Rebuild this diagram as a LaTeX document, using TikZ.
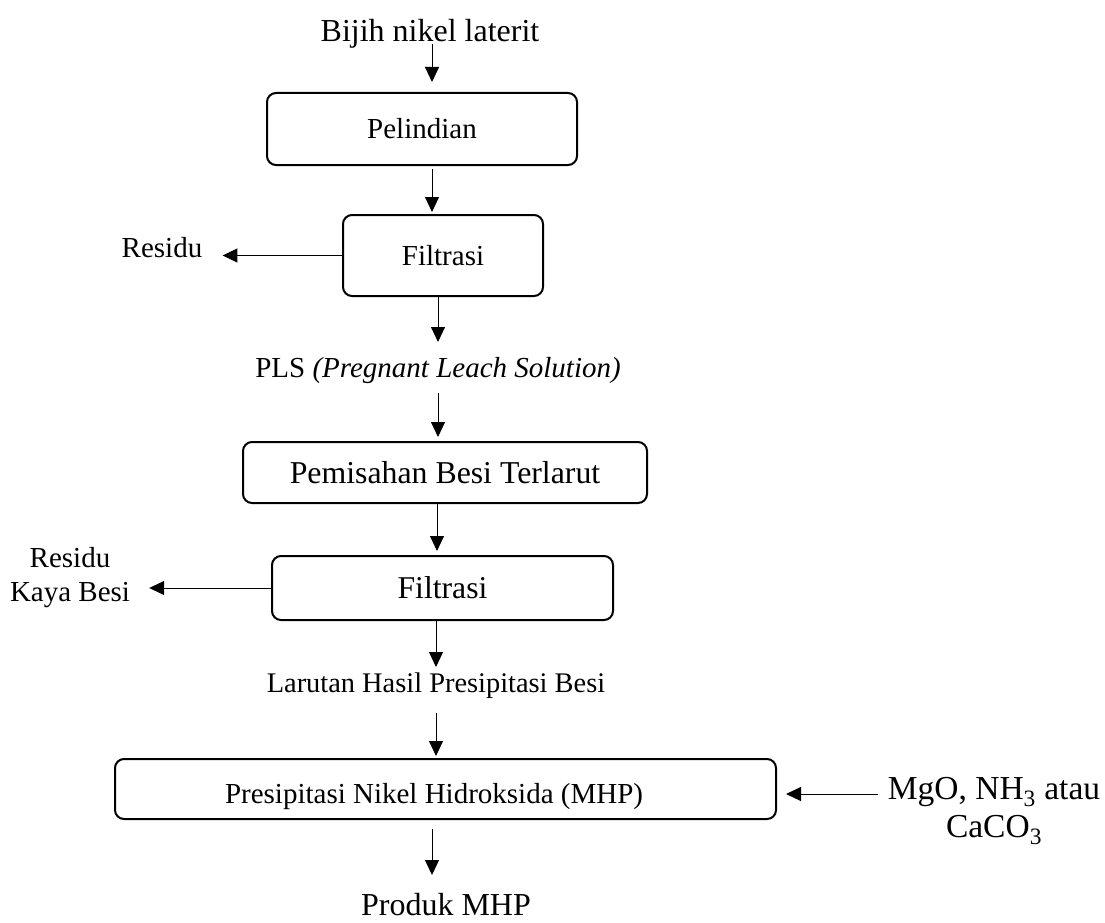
\documentclass[tikz,border=0pt]{standalone}
\usepackage{fontspec}
\setmainfont{Liberation Serif}
\usepackage{tikz}
\usetikzlibrary{arrows.meta, calc}

\tikzset{
    flowbox/.style={draw, line width=2pt, rounded corners=9pt, inner sep=0pt, align=center},
    flowtext/.style={inner sep=0pt, align=center},
    flowarrow/.style={line width=1pt, -{Triangle[length=15pt, width=14pt]}}
}

\begin{document}
\begin{tikzpicture}[x=1pt, y=-1pt]
    \useasboundingbox (0, 0) rectangle (1105, 923);

    % Input and output texts
    \node[flowtext, anchor=base, font=\fontsize{32}{38}\selectfont] (bijih) at (430, 42) {Bijih nikel laterit};
    \node[flowtext, anchor=base, font=\fontsize{29}{34}\selectfont] (pls) at (438, 377) {PLS \textit{(Pregnant Leach Solution)}};
    \node[flowtext, anchor=base, font=\fontsize{28.4}{33}\selectfont] (larutan) at (436, 692) {Larutan Hasil Presipitasi Besi};
    \node[flowtext, anchor=base, font=\fontsize{32}{38}\selectfont] (produk) at (446, 915) {Produk MHP};

    % Process boxes
    \node[flowbox, minimum width=310, minimum height=72, font=\fontsize{29}{34}\selectfont] (pelindian) at (422, 129) {Pelindian};
    \node[flowbox, minimum width=200, minimum height=81, font=\fontsize{29}{34}\selectfont] (filtrasiA) at (443, 255.5) {Filtrasi};
    \node[flowbox, minimum width=404, minimum height=61, font=\fontsize{31.8}{37}\selectfont] (pemisahan) at (445, 472.5) {Pemisahan Besi Terlarut};
    \node[flowbox, minimum width=341, minimum height=64, font=\fontsize{31.7}{37}\selectfont] (filtrasiB) at (442.5, 588) {Filtrasi};
    \node[flowbox, align=flush left, text width=441, inner xsep=110, minimum height=60, text height=28, text depth=0,
        font=\fontsize{29}{34}\selectfont] (mhp) at (445.5, 789) {Presipitasi Nikel Hidroksida (MHP)};

    % Side streams
    \node[flowtext, anchor=base, font=\fontsize{29}{34}\selectfont] (residuA) at (162, 257) {Residu};
    \node[flowtext, font=\fontsize{29}{34}\selectfont] (residuB) at (70, 578) {Residu\\Kaya Besi};
    \node[flowtext, font=\fontsize{33.5}{38}\selectfont] (reagen) at (994, 811) {MgO, NH\textsubscript{3} atau\\CaCO\textsubscript{3}};

    % Main line
    \draw[flowarrow] ($(bijih.base) + (2, 2)$) -- ($(pelindian.north) + (10, -10)$);
    \draw[flowarrow] ($(pelindian.south) + (10, 3)$) -- ($(filtrasiA.north) + (-11, -2)$);
    \draw[flowarrow] ($(filtrasiA.south) + (-5, 0)$) -- ($(pls.base) + (0, -35)$);
    \draw[flowarrow] ($(pls.base) + (0, 16)$) -- ($(pemisahan.north) + (-7, -4)$);
    \draw[flowarrow] ($(pemisahan.south) + (-8, 0)$) -- ($(filtrasiB.north) + (-5.5, -4)$);
    \draw[flowarrow] ($(filtrasiB.south) + (-6.5, 0)$) -- ($(larutan.base) + (0, -25)$);
    \draw[flowarrow] ($(larutan.base) + (0, 21)$) -- ($(mhp.north) + (-9.5, -2)$);
    \draw[flowarrow] ($(mhp.south) + (-13.5, 9)$) -- ($(produk.base) + (-14, -40)$);

    % Residues and reagent
    \draw[flowarrow] (filtrasiA.west) -- ($(residuA.east |- filtrasiA.west) + (20, 0)$);
    \draw[flowarrow] (filtrasiB.west) -- ($(residuB.east |- filtrasiB.west) + (19, 0)$);
    \draw[flowarrow] ($(reagen.west |- mhp.east) + (-10, 5)$) -- ($(mhp.east) + (9, 5)$);
\end{tikzpicture}
\end{document}
